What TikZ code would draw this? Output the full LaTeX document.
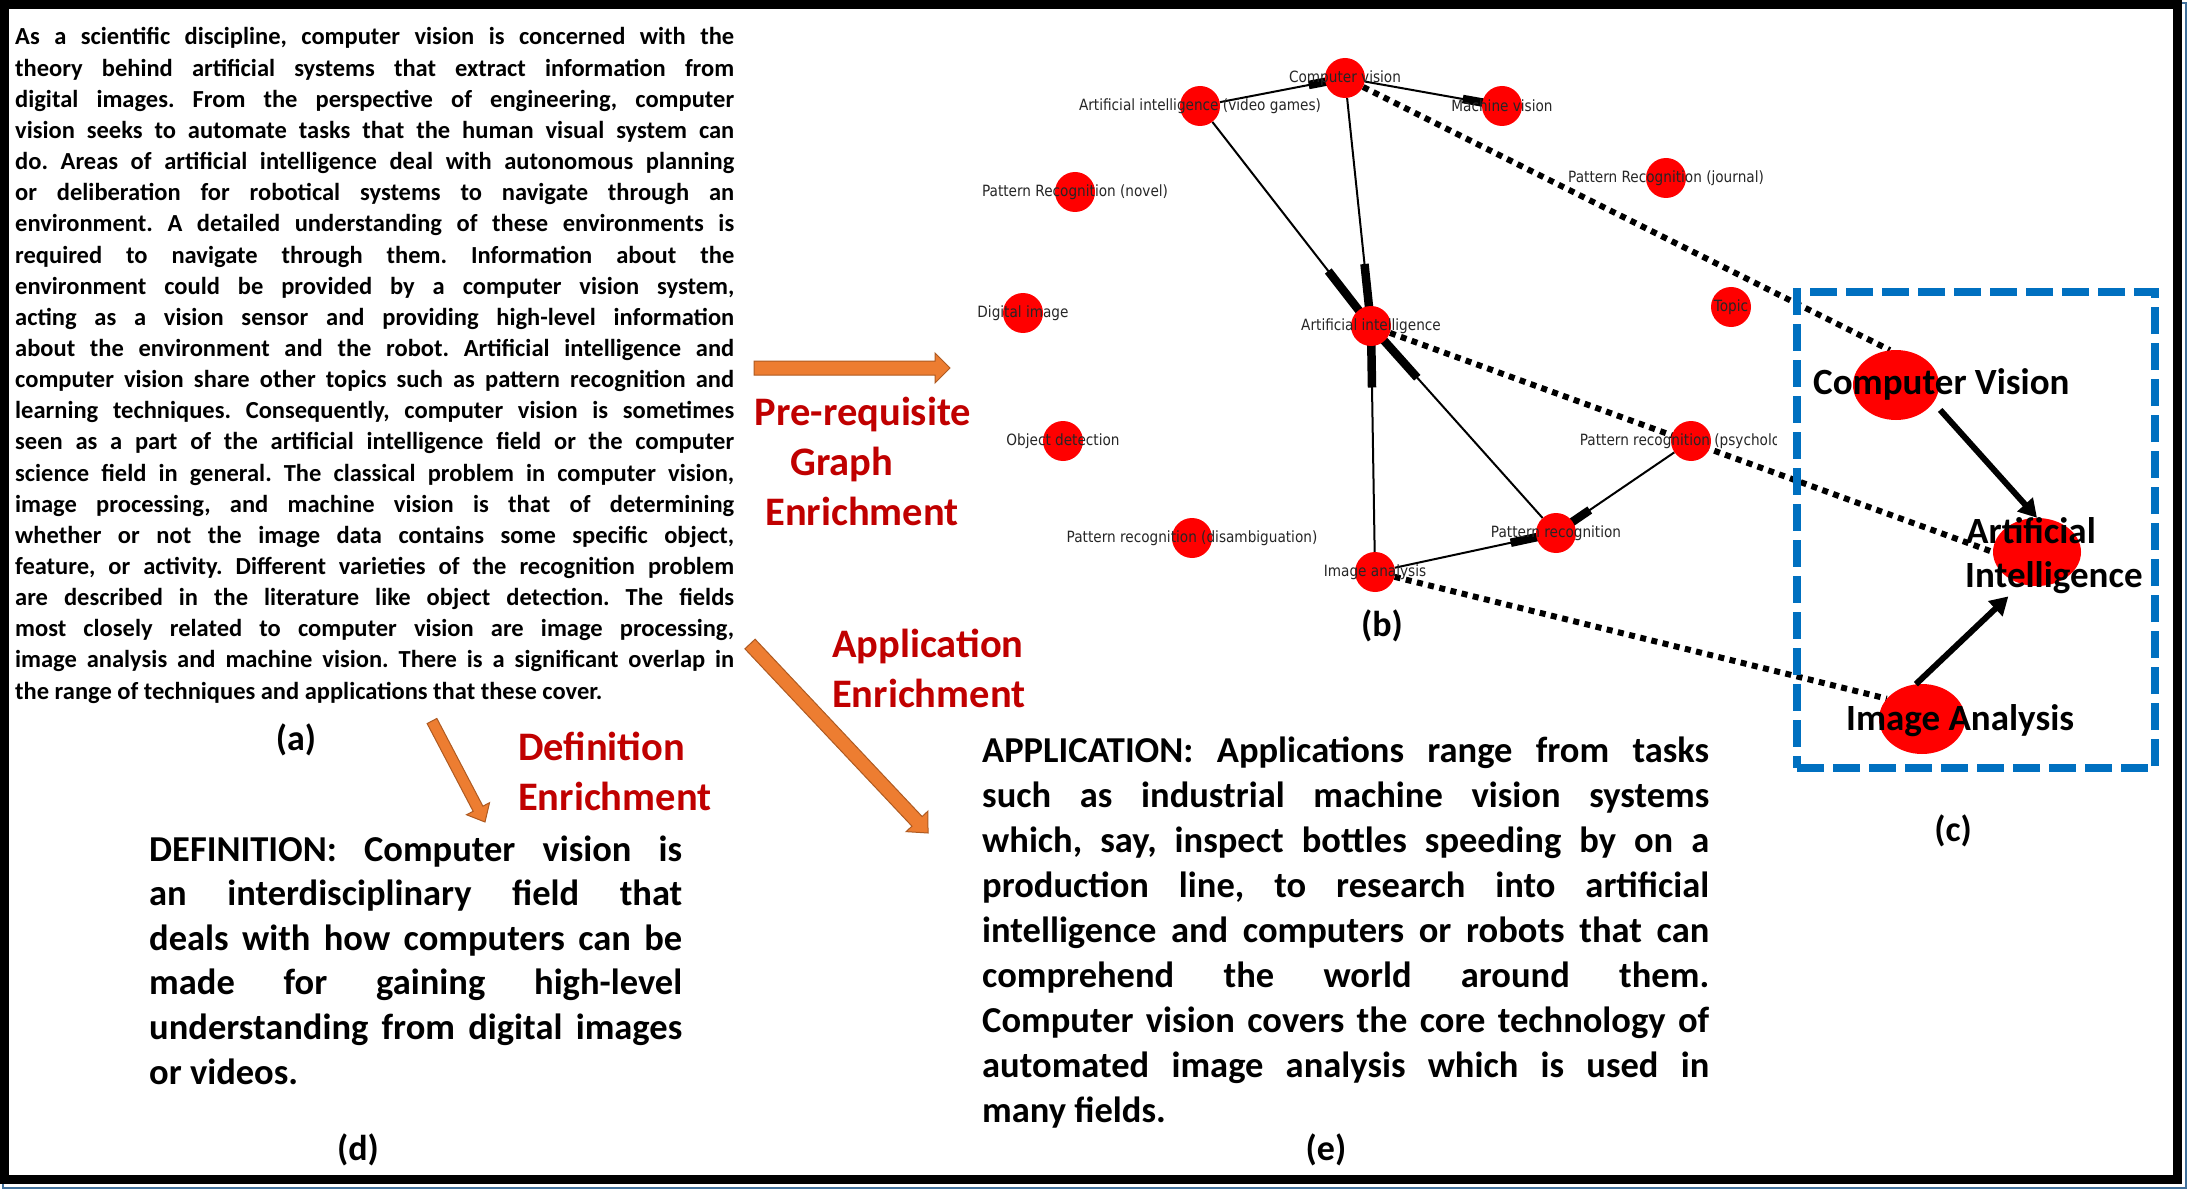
\documentclass[tikz,border=0pt]{standalone}
\usepackage{fontspec}
\setmainfont{Carlito}
\newfontfamily\gfont{DejaVu Sans}
\usepackage{graphicx}
\usetikzlibrary{calc,arrows.meta,backgrounds,shapes.geometric}
\definecolor{darkred}{HTML}{C00000}
\definecolor{orfill}{HTML}{ED7D31}
\definecolor{ordraw}{HTML}{AE5A21}
\definecolor{boxblue}{HTML}{0070C0}
\definecolor{shadowblue}{HTML}{41719C}
\definecolor{nodered}{HTML}{FF0000}
\frenchspacing
\newcommand\jline[1]{\makebox[\linewidth][s]{#1}\par}
\newcommand\gl[1]{\scalebox{0.88}[1]{#1}}
\newcommand\blockarrow[5]{%
  \coordinate (#2-base) at ($(#2)!#5!(#1)$);
  \filldraw[oarrow] ($(#1)!#3!90:(#2)$) -- ($(#2-base)!#3!-90:(#1)$) -- ($(#2-base)!#4!-90:(#1)$) -- (#2) -- ($(#2-base)!#4!90:(#1)$) -- ($(#2-base)!#3!90:(#1)$) -- ($(#1)!#3!-90:(#2)$) -- cycle;}
\begin{document}
\begin{tikzpicture}[x=1pt,y=-1pt,
  gnode/.style={circle, fill=nodered, minimum size=40pt, inner sep=0},
  glabel/.style={font=\gfont\fontsize{15.5}{18}\selectfont, text=black!85, inner sep=0},
  gthin/.style={line width=2pt},
  gthick/.style={line width=8.5pt},
  dotline/.style={line width=6pt, dash pattern=on 6pt off 5.5pt},
  oarrow/.style={fill=orfill, draw=ordraw, line width=1pt, line join=miter},
  redlbl/.style={font=\fontsize{40.5}{48}\selectfont\bfseries, text=darkred, inner sep=0},
  panel/.style={font=\fontsize{36}{40}\selectfont\bfseries, inner sep=0, anchor=base},
  cnode/.style={ellipse, fill=nodered, minimum width=86pt, minimum height=70pt, inner sep=0},
  clabel/.style={font=\fontsize{37}{44}\selectfont\bfseries, inner sep=0, anchor=base west},
  carrow/.style={line width=6pt, -{Triangle[length=18pt,width=20pt]}},
  body/.style={inner sep=0, anchor=base west}]
\useasboundingbox (0,0) rectangle (2187,1198);
\begin{pgfonlayer}{background}
\fill[white] (0,0) rectangle (2187,1198);
\end{pgfonlayer}

% ---------- (a) source text ----------
\node[body] (ta) at (15,45) {\parbox[t]{719pt}{\fontsize{24.5}{31.15}\selectfont\bfseries
\jline{As a scientific discipline, computer vision is concerned with the}
\jline{theory behind artificial systems that extract information from}
\jline{digital images. From the perspective of engineering, computer}
\jline{vision seeks to automate tasks that the human visual system can}
\jline{do. Areas of artificial intelligence deal with autonomous planning}
\jline{or deliberation for robotical systems to navigate through an}
\jline{environment. A detailed understanding of these environments is}
\jline{required to navigate through them. Information about the}
\jline{environment could be provided by a computer vision system,}
\jline{acting as a vision sensor and providing high-level information}
\jline{about the environment and the robot. Artificial intelligence and}
\jline{computer vision share other topics such as pattern recognition and}
\jline{learning techniques. Consequently, computer vision is sometimes}
\jline{seen as a part of the artificial intelligence field or the computer}
\jline{science field in general. The classical problem in computer vision,}
\jline{image processing, and machine vision is that of determining}
\jline{whether or not the image data contains some specific object,}
\jline{feature, or activity. Different varieties of the recognition problem}
\jline{are described in the literature like object detection. The fields}
\jline{most closely related to computer vision are image processing,}
\jline{image analysis and machine vision. There is a significant overlap in}
the range of techniques and applications that these cover.}};

% ---------- (d) definition ----------
\node[body] (td) at (149,861) {\parbox[t]{533pt}{\fontsize{36.5}{44.6}\selectfont\bfseries
\jline{DEFINITION: Computer vision is}
\jline{an interdisciplinary field that}
\jline{deals with how computers can be}
\jline{made for gaining high-level}
\jline{understanding from digital images}
or videos.}};

% ---------- (e) application ----------
\node[body] (te) at (982,762) {\parbox[t]{727pt}{\fontsize{36.5}{45}\selectfont\bfseries
\jline{APPLICATION: Applications range from tasks}
\jline{such as industrial machine vision systems}
\jline{which, say, inspect bottles speeding by on a}
\jline{production line, to research into artificial}
\jline{intelligence and computers or robots that can}
\jline{comprehend the world around them.}
\jline{Computer vision covers the core technology of}
\jline{automated image analysis which is used in}
many fields.}};

% ---------- panel labels ----------
\node[panel] (la) at (296,750) {(a)};
\node[panel] (lb) at (1382,636) {(b)};
\node[panel] (lc) at (1953,841) {(c)};
\node[panel] (ld) at (358,1160) {(d)};
\node[panel] (le) at (1326,1160) {(e)};

% ---------- red captions ----------
\node[redlbl, anchor=base] (pr1) at (863,425) {Pre-requisite};
\node[redlbl, anchor=base] (pr2) at (842,475) {Graph};
\node[redlbl, anchor=base] (pr3) at (862,525) {Enrichment};
\node[redlbl, anchor=base west] (ap1) at (832,657) {Application};
\node[redlbl, anchor=base west] (ap2) at (832,707) {Enrichment};
\node[redlbl, anchor=base west] (de1) at (518,760) {Definition};
\node[redlbl, anchor=base west] (de2) at (518,810) {Enrichment};

% ---------- orange block arrows ----------
\coordinate (oa1t) at (754,368);
\coordinate (oa1h) at (950,368);
\blockarrow{oa1t}{oa1h}{7pt}{15pt}{15pt}
\coordinate (oa2t) at (750,644);
\coordinate (oa2h) at (928,833);
\blockarrow{oa2t}{oa2h}{7pt}{15pt}{16pt}
\coordinate (oa3t) at (432,721);
\coordinate (oa3h) at (485,822);
\blockarrow{oa3t}{oa3h}{5.5pt}{13pt}{15pt}

% ---------- (b) graph ----------
\node[gnode] (CV) at (1345,78) {};
\node[gnode] (AIvg) at (1200,106) {};
\node[gnode] (MV) at (1502,106) {};
\node[gnode] (PRnov) at (1075,192) {};
\node[gnode] (PRjou) at (1666,178) {};
\node[gnode] (DI) at (1023,313) {};
\node[gnode] (TOP) at (1731,307) {};
\node[gnode] (AI) at (1371,326) {};
\node[gnode] (OD) at (1063,441) {};
\node[gnode] (PRpsy) at (1691,441) {};
\node[gnode] (PRdis) at (1192,538) {};
\node[gnode] (PR) at (1556,533) {};
\node[gnode] (IA) at (1375,572) {};

\node[glabel] (CVl) at (CV) {\gl{Computer vision}};
\node[glabel] (AIvgl) at (AIvg) {\gl{Artificial intelligence (video games)}};
\node[glabel] (MVl) at (MV) {\gl{Machine vision}};
\node[glabel] (PRnovl) at (PRnov) {\gl{Pattern Recognition (novel)}};
\node[glabel] (PRjoul) at (PRjou) {\gl{Pattern Recognition (journal)}};
\node[glabel] (DIl) at (DI) {\gl{Digital image}};
\node[glabel] (TOPl) at (TOP) {\gl{Topic}};
\node[glabel] (AIl) at (AI) {\gl{Artificial intelligence}};
\node[glabel] (ODl) at (OD) {\gl{Object detection}};
\begin{scope}
\clip (1550,420) rectangle (1776,465);
\node[glabel] (PRpsyl) at (PRpsy) {\gl{Pattern recognition (psychology)}};
\end{scope}
\node[glabel] (PRdisl) at (PRdis) {\gl{Pattern recognition (disambiguation)}};
\node[glabel] (PRl) at (PR) {\gl{Pattern recognition}};
\node[glabel] (IAl) at (IA) {\gl{Image analysis}};

% ---------- (c) box ----------
\node[draw=boxblue, line width=8pt, dash pattern=on 27pt off 9pt, minimum width=358pt, minimum height=476pt, inner sep=0] (cbox) at (1976,530) {};
\node[cnode] (cCV) at (1896,385) {};
\node[cnode, minimum width=88pt, minimum height=68pt] (cAI) at (2037,552) {};
\node[cnode] (cIA) at (1922,719) {};
\node[clabel] (cCVl) at (1813,394) {Computer Vision};
\node[clabel] (cAIl1) at (1966,543) {Artificial};
\node[clabel] (cAIl2) at (1965,587) {Intelligence};
\node[clabel] (cIAl) at (1846,730) {Image Analysis};
\draw[carrow, shorten <=10pt] (cCV.-25) -- (cAI.north);
\draw[carrow, shorten >=18pt] (cIA.100) -- (cAI.-116);

% ---------- edges and links (under nodes) ----------
\begin{pgfonlayer}{background}
\foreach \s/\t in {AIvg/CV, CV/MV, AIvg/AI, CV/AI, IA/AI, PR/AI, PRpsy/PR, IA/PR} {
  \draw[gthin] (\s) -- (\t);
  \draw[gthick] ($(\s)!0.75!(\t)$) -- (\t.center);
}
\draw[dotline] (CV) -- (cCV.100);
\draw[dotline] (AI) -- (cAI.west);
\draw[dotline] (IA) -- (cIA.150);
\end{pgfonlayer}

% ---------- frame ----------
\draw[shadowblue, line width=2pt] (3,3) rectangle (2185.5,1188);
\draw[black, line width=9pt] (4.5,4.5) rectangle (2177.5,1179);
\end{tikzpicture}
\end{document}
